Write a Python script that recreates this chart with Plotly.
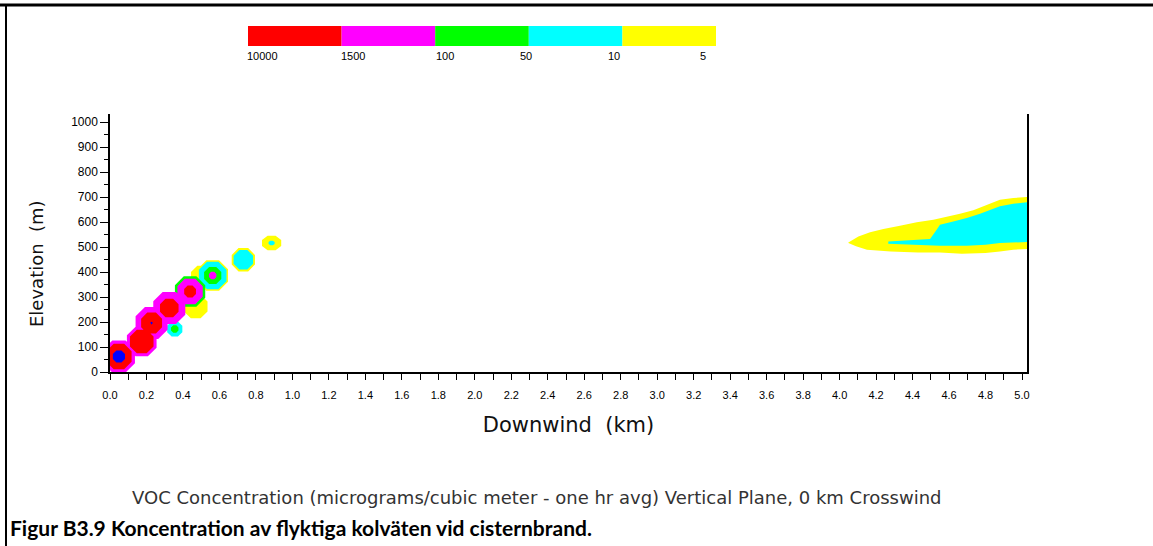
import numpy as np
import plotly.graph_objects as go

# ---------------- data ----------------
# concentration levels of the legend bar (micrograms / m3)
level_labels = ["10000", "1500", "100", "50", "10", "5"]
level_colors = ["#FF0000", "#FF00FF", "#00FF00", "#00FFFF", "#FFFF00"]

# near-source puffs: centre (km, m), vertical stretch, and radius (km) of each contour band
puff_x = [0.049, 0.174, 0.228, 0.325, 0.355, 0.439, 0.470, 0.503, 0.563, 0.731, 0.886]
puff_z = [62, 122, 196, 256, 172, 322, 262, 382, 386, 449, 516]
puff_aspect = [1.0, 1.0, 1.0, 1.0, 1.0, 1.0, 1.0, 1.0, 1.0, 1.0, 0.75]
r_yellow = [0, 0, 0, 0, 0, 0, 0.070, 0.064, 0.091, 0.069, 0.057]
r_cyan = [0, 0, 0, 0, 0.045, 0, 0, 0, 0.082, 0.058, 0.018]
r_green = [0, 0, 0, 0, 0.022, 0.090, 0, 0, 0.051, 0, 0]
r_magenta = [0.095, 0.088, 0.095, 0.095, 0, 0.075, 0, 0, 0.022, 0, 0]
r_red = [0.075, 0.070, 0.062, 0.055, 0, 0.035, 0, 0, 0, 0, 0]
r_blue = [0.036, 0, 0.007, 0, 0, 0, 0, 0, 0, 0, 0]

# far plume (4 - 5 km): upper and lower edges of the 5 and 10 contours
far_yellow_x_top = [4.048, 4.103, 4.167, 4.240, 4.331, 4.423, 4.514, 4.587, 4.660, 4.733, 4.788, 4.834, 4.879, 4.952, 5.03]
far_yellow_z_top = [518, 542, 559, 572, 585, 599, 609, 620, 633, 647, 663, 679, 689, 696, 700]
far_yellow_x_bot = [4.048, 4.090, 4.150, 4.280, 4.430, 4.550, 4.670, 4.800, 4.879, 4.952, 5.03]
far_yellow_z_bot = [516, 503, 489, 482, 478, 478, 473, 476, 482, 489, 492]
far_cyan_x_top = [4.267, 4.496, 4.532, 4.550, 4.623, 4.697, 4.770, 4.825, 4.879, 4.952, 5.03]
far_cyan_z_top = [522, 532, 569, 589, 602, 616, 633, 649, 663, 673, 679]
far_cyan_x_bot = [4.267, 4.550, 4.697, 4.800, 4.879, 4.952, 5.03]
far_cyan_z_bot = [513, 505, 505, 509, 516, 519, 520]

x_ticks = [round(0.2 * i, 1) for i in range(26)]
x_ticklabels = [f"{v:.1f}" for v in x_ticks]
y_ticks = list(range(0, 1001, 100))

# ---------------- layout geometry (pixels) ----------------
W, H = 1153, 546
L, R, T, B = 110, 1027, 114, 372
km_per_px = 1 / 182.4
m_per_px = 4.0
XMAX = (R - L) * km_per_px
YMAX = (B - T) * m_per_px
STRETCH = 730.0  # metres per km giving round blobs on screen


def px2paper(px, py):
    return (px - L) / (R - L), (B - py) / (B - T)


def octagons(radii):
    xs, zs = [], []
    ang = np.deg2rad(22.5 + 45 * np.arange(9))
    for cx, cz, a, r in zip(puff_x, puff_z, puff_aspect, radii):
        if r <= 0:
            continue
        xs += list(cx + r * np.cos(ang)) + [None]
        zs += list(cz + r * STRETCH * a * np.sin(ang)) + [None]
    return xs, zs


fig = go.Figure()

bands = [
    ("#FFFF00", r_yellow, (far_yellow_x_top, far_yellow_z_top, far_yellow_x_bot, far_yellow_z_bot)),
    ("#00FFFF", r_cyan, (far_cyan_x_top, far_cyan_z_top, far_cyan_x_bot, far_cyan_z_bot)),
    ("#00FF00", r_green, None),
    ("#FF00FF", r_magenta, None),
    ("#FF0000", r_red, None),
    ("#0000FF", r_blue, None),
]
for color, radii, far in bands:
    xs, zs = octagons(radii)
    if far is not None:
        xt, zt, xb, zb = far
        xs += list(xt) + list(xb[::-1]) + [None]
        zs += list(zt) + list(zb[::-1]) + [None]
    fig.add_trace(go.Scatter(x=xs, y=zs, mode="lines", fill="toself", fillcolor=color,
                             line=dict(width=0, color=color), hoverinfo="skip", showlegend=False))

shapes = []
annotations = []

# page frame lines
x0, y0 = px2paper(0, 5)
x1, _ = px2paper(W, 5)
shapes.append(dict(type="line", xref="paper", yref="paper", x0=x0, y0=y0, x1=x1, y1=y0,
                   line=dict(color="black", width=3), layer="above"))
lx, ly0 = px2paper(6, 4)
_, ly1 = px2paper(6, H + 5)
shapes.append(dict(type="line", xref="paper", yref="paper", x0=lx, y0=ly0, x1=lx, y1=ly1,
                   line=dict(color="black", width=2), layer="above"))

# colour legend bar
bar_left, bar_right, bar_top, bar_bot = 248, 716, 26, 46
seg = (bar_right - bar_left) / len(level_colors)
for i, c in enumerate(level_colors):
    ax0, ay0 = px2paper(bar_left + i * seg, bar_bot)
    ax1, ay1 = px2paper(bar_left + (i + 1) * seg, bar_top)
    shapes.append(dict(type="rect", xref="paper", yref="paper", x0=ax0, y0=ay0, x1=ax1, y1=ay1,
                       fillcolor=c, line=dict(width=0), layer="above"))
label_px = [262, 353, 445, 526, 614, 703]
for lab, lpx in zip(level_labels, label_px):
    ax, ay = px2paper(lpx, 56)
    annotations.append(dict(text=lab, x=ax, y=ay, xref="paper", yref="paper", showarrow=False,
                            font=dict(family="Liberation Sans", size=11, color="black"),
                            xanchor="center", yanchor="middle"))

# axis titles
ax, ay = px2paper(36, 264)
annotations.append(dict(text="Elevation  (m)", x=ax, y=ay, xref="paper", yref="paper", showarrow=False,
                        textangle=-90, xanchor="center", yanchor="middle",
                        font=dict(family="DejaVu Sans", size=18, color="#111")))

# captions
ax, ay = px2paper(130, 497)
annotations.append(dict(text="VOC Concentration (micrograms/cubic meter - one hr avg) Vertical Plane, 0 km Crosswind",
                        x=ax, y=ay, xref="paper", yref="paper", showarrow=False, xanchor="left", yanchor="middle",
                        font=dict(family="DejaVu Sans", size=18, color="#333")))
ax, ay = px2paper(8, 527)
annotations.append(dict(text="<b>Figur B3.9 Koncentration av flyktiga kolväten vid cisternbrand.</b>",
                        x=ax, y=ay, xref="paper", yref="paper", showarrow=False, xanchor="left", yanchor="middle",
                        font=dict(family="Lato", size=21, color="black")))

fig.update_layout(
    width=W, height=H,
    margin=dict(l=L, r=W - R, t=T, b=H - B, pad=0),
    paper_bgcolor="white", plot_bgcolor="white",
    shapes=shapes, annotations=annotations,
    showlegend=False,
    xaxis=dict(range=[0, XMAX], tickvals=x_ticks, ticktext=x_ticklabels, showgrid=False, zeroline=False,
               showline=True, linecolor="black", linewidth=1.5, ticks="outside", ticklen=6, tickcolor="black",
               ticklabelstandoff=6,
               minor=dict(dtick=0.1, tick0=0, ticks="outside", ticklen=6, tickcolor="black"),
               tickfont=dict(family="Liberation Sans", size=11, color="black"),
               title=dict(text="Downwind  (km)", font=dict(family="DejaVu Sans", size=21, color="#111"), standoff=17)),
    yaxis=dict(range=[0, YMAX], tickvals=y_ticks, showgrid=False, zeroline=False,
               showline=True, mirror=True, linecolor="black", linewidth=1.5, ticks="outside", ticklen=8,
               tickcolor="black",
               minor=dict(dtick=50, tick0=0, ticks="outside", ticklen=4, tickcolor="black"),
               tickfont=dict(family="Liberation Sans", size=12, color="black")),
)

fig.write_html("out.html", config={"displayModeBar": False},
               post_script="document.body.style.margin='0';document.body.style.padding='0';")
